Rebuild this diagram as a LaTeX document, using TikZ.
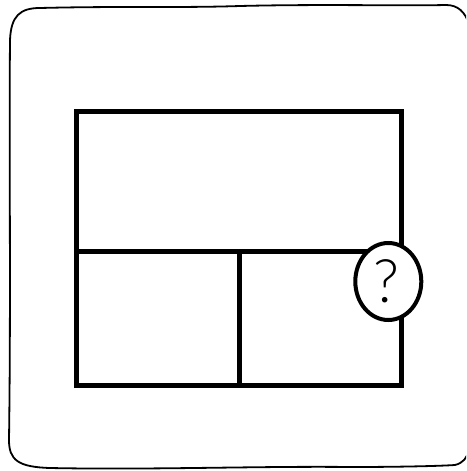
\documentclass[tikz,border=0pt]{standalone}
\usepackage{fontspec}
\usetikzlibrary{shapes.geometric}
\newfontfamily\qfont{Lato Light}
\begin{document}
\begin{tikzpicture}[x=1pt,y=-1pt,
  frame/.style={line width=1.8pt,line join=round,line cap=round},
  box/.style={line width=5pt,line join=miter},
  bubble/.style={draw,fill=white,ellipse,line width=4pt,minimum width=66pt,minimum height=77pt,inner sep=0pt},
  qmark/.style={font=\qfont\fontsize{60}{62}\selectfont,inner sep=0pt,anchor=base}]
\useasboundingbox (0,0) rectangle (466,471);
% hand drawn outer frame
\begin{scope}
\clip (0,0) rectangle (466,471);
\draw[frame] (40,8) .. controls (120,6) and (180,8) .. (240,6)
  .. controls (320,4) and (400,6) .. (446,5)
  .. controls (458,5) and (465,12) .. (469,24)
  -- (469,450);
\draw[frame] (40,8) .. controls (20,8) and (11,16) .. (10,40)
  .. controls (9,150) and (11,300) .. (9,440)
  .. controls (9,460) and (18,467) .. (50,468)
  .. controls (150,470) and (260,466) .. (350,467)
  .. controls (400,467) and (440,466) .. (455,465)
  .. controls (463,463) and (467,458) .. (469,450);
\end{scope}
% inner layout
\coordinate (tl) at (76,111);
\coordinate (br) at (401.5,385.5);
\coordinate (ml) at (76,251.5);
\coordinate (mr) at (401.5,251.5);
\coordinate (vt) at (239,251.5);
\coordinate (vb) at (239,385.5);
\draw[box] (tl) rectangle (br);
\draw[box] (ml) -- (mr);
\draw[box] (vt) -- (vb);
\node[bubble] (q) at (388.3,281.5) {};
\node[qmark] (qt) at (386,302.5) {?};
\end{tikzpicture}
\end{document}
